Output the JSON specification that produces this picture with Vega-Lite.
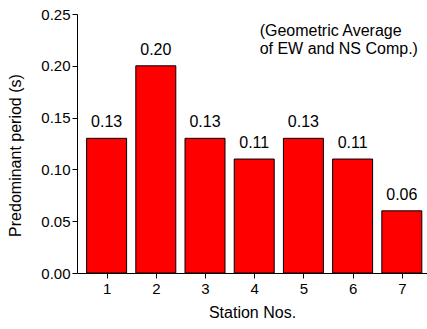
{
  "$schema": "https://vega.github.io/schema/vega-lite/v6.json",
  "autosize": "none",
  "padding": {"left": 77, "top": 14, "right": 0, "bottom": 56},
  "width": 350,
  "height": 259,
  "background": "white",
  "config": {
    "view": {"stroke": null},
    "font": "Liberation Sans",
    "axis": {
      "domainColor": "black",
      "tickColor": "black",
      "labelColor": "black",
      "titleColor": "black",
      "labelFont": "Liberation Sans",
      "titleFont": "Liberation Sans",
      "labelFontSize": 15,
      "titleFontSize": 16,
      "titleFontWeight": "normal",
      "grid": false,
      "domainWidth": 1,
      "tickWidth": 1
    }
  },
  "data": {
    "values": [
      {"station": 1, "period": 0.13, "label": "0.13"},
      {"station": 2, "period": 0.20, "label": "0.20"},
      {"station": 3, "period": 0.13, "label": "0.13"},
      {"station": 4, "period": 0.11, "label": "0.11"},
      {"station": 5, "period": 0.13, "label": "0.13"},
      {"station": 6, "period": 0.11, "label": "0.11"},
      {"station": 7, "period": 0.06, "label": "0.06"}
    ]
  },
  "layer": [
    {
      "mark": {"type": "bar", "width": 40, "fill": "#ff0000", "stroke": "black", "strokeWidth": 1},
      "encoding": {
        "x": {
          "field": "station",
          "type": "quantitative",
          "scale": {"domain": [0.5, 7.41], "nice": false, "zero": false},
          "axis": {
            "title": "Station Nos.",
            "values": [1, 2, 3, 4, 5, 6, 7],
            "format": "d",
            "tickSize": 5,
            "labelPadding": 3,
            "titlePadding": 8
          }
        },
        "y": {
          "field": "period",
          "type": "quantitative",
          "scale": {"domain": [0, 0.25], "nice": false},
          "axis": {
            "title": "Predominant period (s)",
            "values": [0, 0.025, 0.05, 0.075, 0.1, 0.125, 0.15, 0.175, 0.2, 0.225, 0.25],
            "labelExpr": "round(datum.value*1000) % 50 == 0 ? format(datum.value, '.2f') : ''",
            "tickSize": {"condition": {"test": "round(datum.value*1000) % 50 == 0", "value": 5}, "value": 3},
            "labelPadding": 2,
            "titleX": -62,
            "titleY": 141,
            "titleAngle": -90,
            "titleBaseline": "middle"
          }
        }
      }
    },
    {
      "mark": {"type": "text", "baseline": "alphabetic", "dy": -11, "fontSize": 16, "color": "black"},
      "encoding": {
        "x": {"field": "station", "type": "quantitative"},
        "y": {"field": "period", "type": "quantitative"},
        "text": {"field": "label"}
      }
    },
    {
      "data": {"values": [{"line1": "(Geometric Average", "line2": "of EW and NS Comp.)"}]},
      "mark": {"type": "text", "align": "left", "baseline": "top", "fontSize": 16, "lineHeight": 18, "color": "black", "text": ["(Geometric Average", "of EW and NS Comp.)"]},
      "encoding": {
        "x": {"datum": 4.11, "type": "quantitative"},
        "y": {"datum": 0.241, "type": "quantitative"}
      }
    }
  ]
}
